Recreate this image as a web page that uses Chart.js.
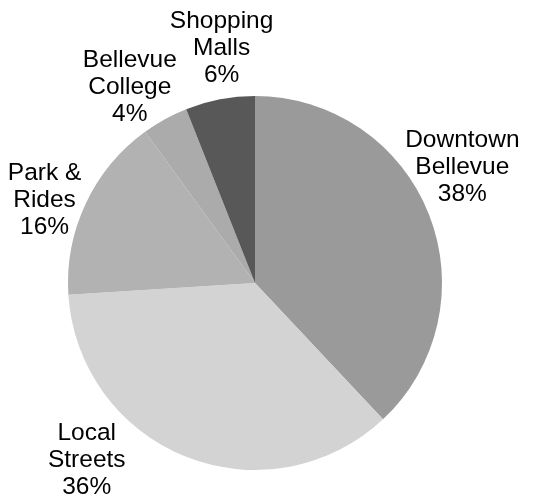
<!DOCTYPE html>
<html>
<head>
<meta charset="utf-8">
<script src="https://cdn.jsdelivr.net/npm/chart.js@4.4.0/dist/chart.umd.min.js"></script>
<style>
  html, body { margin: 0; padding: 0; background: #fff; }
  #wrap { width: 546px; height: 498px; position: relative; }
</style>
</head>
<body>
<div id="wrap"><canvas id="pie"></canvas></div>
<script>
// data, clockwise from 12 o'clock
const categories = [['Downtown', 'Bellevue'], ['Local', 'Streets'], ['Park &', 'Rides'], ['Bellevue', 'College'], ['Shopping', 'Malls']];
const shares = [38, 36, 16, 4, 6];
const sliceColors = ['#9a9a9a', '#d3d3d3', '#b2b2b2', '#ababab', '#585858'];

// label placement: 50px beyond the rim on the slice's mid angle, then nudged (px)
const labelGap = 50;
const labelNudge = [[-13, -29], [-81, -43], [4, 18], [-11, 12], [11, -2]];

const outsideLabels = {
    id: 'outsideLabels',
    afterDatasetsDraw(chart) {
        const ctx = chart.ctx;
        const meta = chart.getDatasetMeta(0);
        ctx.save();
        ctx.font = '24.5px "Liberation Sans", Arial, sans-serif';
        ctx.fillStyle = '#000';
        ctx.textAlign = 'center';
        ctx.textBaseline = 'middle';
        meta.data.forEach((arc, i) => {
            const mid = (arc.startAngle + arc.endAngle) / 2;
            const r = arc.outerRadius + labelGap;
            const x = arc.x + Math.cos(mid) * r + labelNudge[i][0];
            const y = arc.y + Math.sin(mid) * r + labelNudge[i][1];
            const lines = [...categories[i], shares[i] + '%'];
            lines.forEach((t, k) => ctx.fillText(t, x, y + (k - 1) * 27));
        });
        ctx.restore();
    }
};

new Chart(document.getElementById('pie').getContext('2d'), {
    type: 'pie',
    data: {
        labels: categories.map(c => c.join(' ')),
        datasets: [{
            data: shares,
            backgroundColor: sliceColors,
            borderWidth: 0
        }]
    },
    options: {
        responsive: true,
        maintainAspectRatio: false,
        animation: false,
        layout: { padding: { left: 68, right: 104, top: 96, bottom: 28 } },
        plugins: { legend: { display: false }, tooltip: { enabled: false } }
    },
    plugins: [outsideLabels]
});
</script>
</body>
</html>
